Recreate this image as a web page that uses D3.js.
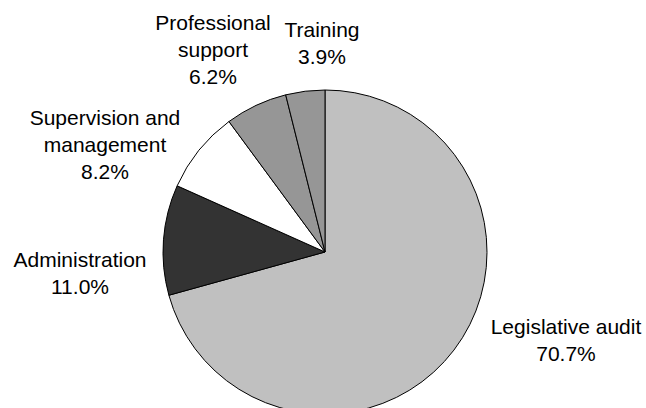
<!DOCTYPE html>
<html>
<head>
<meta charset="utf-8">
<script src="https://cdn.jsdelivr.net/npm/d3@7"></script>
<style>
  body { margin: 0; background: #fff; }
  text { font-family: "Liberation Sans", Arial, sans-serif; font-size: 21px; fill: #000; }
</style>
</head>
<body>
<div id="chart"></div>
<script>
// data
var categories = ["Legislative audit", "Administration", "Supervision and management", "Professional support", "Training"];
var shares = [70.7, 11.0, 8.2, 6.2, 3.9];
var fills = ["#C0C0C0", "#333333", "#FFFFFF", "#969696", "#969696"];

// label lines (how each category name wraps)
var labelLines = [
  ["Legislative audit"],
  ["Administration"],
  ["Supervision and", "management"],
  ["Professional", "support"],
  ["Training"]
];
// label anchor: centre x, baseline of first line
var labelPos = [[566, 334], [80, 267], [105, 125], [213, 30], [322, 37]];

var width = 646, height = 408,
  cx = 325, cy = 252, radius = 162, lineH = 27;

var svg = d3.select("#chart")
  .append("svg")
  .attr("width", width)
  .attr("height", height);

var pie = d3.pie()
  .sort(null)
  .value(function(d) { return d; });

var arc = d3.arc()
  .innerRadius(0)
  .outerRadius(radius);

var g = svg.append("g")
  .attr("transform", "translate(" + cx + "," + cy + ")");

g.selectAll("path")
  .data(pie(shares))
  .enter()
  .append("path")
  .attr("d", arc)
  .attr("fill", function(d, i) { return fills[i]; })
  .attr("stroke", "#000")
  .attr("stroke-width", 1)
  .attr("stroke-linejoin", "round");

// labels
var fmt = d3.format(".1f");
categories.forEach(function(c, i) {
  var t = svg.append("text")
    .attr("text-anchor", "middle")
    .attr("x", labelPos[i][0])
    .attr("y", labelPos[i][1]);
  var lines = labelLines[i].concat([fmt(shares[i]) + "%"]);
  lines.forEach(function(l, j) {
    t.append("tspan")
      .attr("x", labelPos[i][0])
      .attr("dy", j === 0 ? 0 : lineH)
      .text(l);
  });
});
</script>
</body>
</html>
